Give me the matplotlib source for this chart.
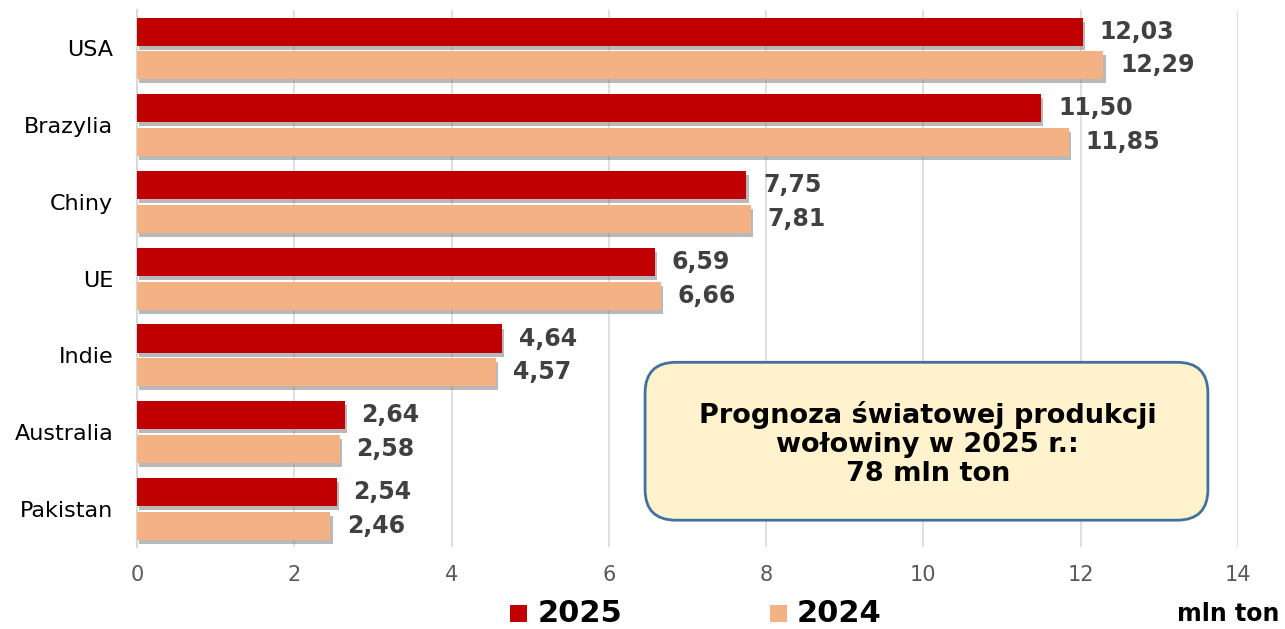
import matplotlib.pyplot as plt
import matplotlib.patheffects as pe
from matplotlib.patches import FancyBboxPatch, Rectangle
import numpy as np

countries = ['USA', 'Brazylia', 'Chiny', 'UE', 'Indie', 'Australia', 'Pakistan']
val_2025 = [12.03, 11.50, 7.75, 6.59, 4.64, 2.64, 2.54]
val_2024 = [12.29, 11.85, 7.81, 6.66, 4.57, 2.58, 2.46]
series_names = ['2025', '2024']
colors = ['#C00000', '#F4B183']
xticks = [0, 2, 4, 6, 8, 10, 12, 14]

fig = plt.figure(figsize=(12.85, 6.29), dpi=100)
ax = fig.add_axes([0.1066, 0.130, 0.8568, 0.854])

y = np.arange(len(countries))
h = 0.365
off = 0.22
shadow = [pe.SimplePatchShadow(offset=(1.5, -3), shadow_rgbFace='#808080', alpha=0.55), pe.Normal()]

b1 = ax.barh(y - off, val_2025, height=h, color=colors[0], zorder=3)
b2 = ax.barh(y + off, val_2024, height=h, color=colors[1], zorder=3)
for bars in (b1, b2):
    for b in bars:
        b.set_path_effects(shadow)

def fmt(v):
    return f'{v:.2f}'.replace('.', ',')

for vals, dy in ((val_2025, -off), (val_2024, off)):
    for i, v in enumerate(vals):
        ax.annotate(fmt(v), (v, i + dy), xytext=(12, 0), textcoords='offset points',
                    va='center', ha='left', fontsize=17, fontweight='bold', color='#404040')

ax.set_xlim(0, 14)
ax.set_ylim(len(countries) - 0.5, -0.5)
ax.set_xticks(xticks)
ax.set_xticklabels([str(t) for t in xticks])
ax.set_yticks(y)
ax.set_yticklabels(countries)
ax.tick_params(axis='x', length=0, pad=13, labelsize=15, labelcolor='#595959')
ax.tick_params(axis='y', length=0, pad=17, labelsize=16, labelcolor='#000000')
ax.grid(axis='x', color='#D9D9D9', linewidth=1.2, zorder=0)
for s in ['top', 'right', 'bottom']:
    ax.spines[s].set_visible(False)
ax.spines['left'].set_color('#D9D9D9')
ax.spines['left'].set_linewidth(1.5)

# info box
box = FancyBboxPatch((0.502, 0.173), 0.438, 0.251, boxstyle='round,pad=0,rounding_size=0.024',
                     transform=fig.transFigure, facecolor='#FFF2CC', edgecolor='#41719C',
                     linewidth=2, zorder=5, mutation_aspect=2.04)
fig.patches.append(box)
fig.text(0.722, 0.294, 'Prognoza światowej produkcji\nwołowiny w 2025 r.:\n78 mln ton',
         ha='center', va='center', fontsize=19.5, fontweight='bold', color='#000000',
         linespacing=1.17, zorder=6)

# legend
leg_x = [0.397, 0.599]
for name, c, lx in zip(series_names, colors, leg_x):
    fig.patches.append(Rectangle((lx, 0.011), 0.0132, 0.027, transform=fig.transFigure,
                                 facecolor=c, edgecolor='none'))
    fig.text(lx + 0.021, 0.024, name, ha='left', va='center', fontsize=22, fontweight='bold')
fig.text(0.996, 0.024, 'mln ton', ha='right', va='center', fontsize=17, fontweight='bold')

fig.savefig('out.png', dpi=100)
